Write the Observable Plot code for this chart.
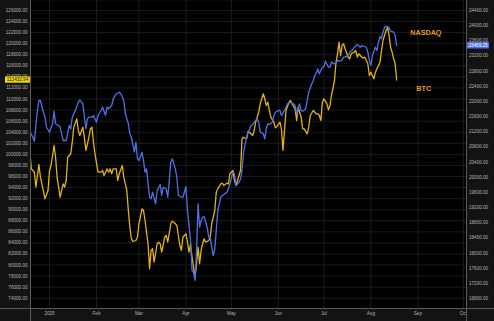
<!DOCTYPE html>
<html><head><meta charset="utf-8">
<script src="https://cdn.jsdelivr.net/npm/d3@7"></script>
<script src="https://cdn.jsdelivr.net/npm/@observablehq/plot@0.6"></script>
<style>
html,body{margin:0;padding:0;background:#131313;}
#chart{width:494px;height:321px;overflow:hidden;position:relative;}
</style></head><body><div id="chart"></div>
<script>
const btcDates = ["2024-12-19","2024-12-20","2024-12-22","2024-12-23","2024-12-25","2024-12-26","2024-12-27","2024-12-29","2024-12-31",
"2025-01-01","2025-01-02","2025-01-04","2025-01-05","2025-01-06","2025-01-08","2025-01-10","2025-01-11","2025-01-12","2025-01-13","2025-01-15","2025-01-16","2025-01-17","2025-01-19","2025-01-20","2025-01-21","2025-01-23","2025-01-24","2025-01-25","2025-01-27","2025-01-28","2025-01-29","2025-01-30","2025-01-31",
"2025-02-02","2025-02-04","2025-02-05","2025-02-06","2025-02-08","2025-02-09","2025-02-10","2025-02-11","2025-02-12","2025-02-14","2025-02-15","2025-02-16","2025-02-18","2025-02-19","2025-02-20","2025-02-21","2025-02-22","2025-02-23","2025-02-24","2025-02-25","2025-02-27","2025-02-28",
"2025-03-01","2025-03-03","2025-03-04","2025-03-05","2025-03-07","2025-03-08","2025-03-09","2025-03-10","2025-03-11","2025-03-13","2025-03-14","2025-03-15","2025-03-16","2025-03-18","2025-03-19","2025-03-20","2025-03-22","2025-03-23","2025-03-24","2025-03-25","2025-03-26","2025-03-28","2025-03-29","2025-03-30",
"2025-04-01","2025-04-02","2025-04-03","2025-04-04","2025-04-05","2025-04-06","2025-04-07","2025-04-08","2025-04-09","2025-04-10","2025-04-11","2025-04-12","2025-04-13","2025-04-14","2025-04-16","2025-04-17","2025-04-18","2025-04-20","2025-04-21","2025-04-22","2025-04-24","2025-04-25","2025-04-26","2025-04-28","2025-04-29","2025-04-30",
"2025-05-02","2025-05-03","2025-05-04","2025-05-05","2025-05-07","2025-05-08","2025-05-09","2025-05-11","2025-05-12","2025-05-14","2025-05-15","2025-05-16","2025-05-17","2025-05-19","2025-05-20","2025-05-22","2025-05-23","2025-05-24","2025-05-25","2025-05-26","2025-05-27","2025-05-29","2025-05-30","2025-05-31",
"2025-06-02","2025-06-03","2025-06-04","2025-06-05","2025-06-06","2025-06-08","2025-06-09","2025-06-10","2025-06-12","2025-06-13","2025-06-14","2025-06-16","2025-06-17","2025-06-18","2025-06-20","2025-06-21","2025-06-22","2025-06-24","2025-06-25","2025-06-26","2025-06-27","2025-06-28","2025-06-29","2025-06-30",
"2025-07-01","2025-07-03","2025-07-04","2025-07-05","2025-07-06","2025-07-08","2025-07-09","2025-07-10","2025-07-11","2025-07-12","2025-07-13","2025-07-14","2025-07-15","2025-07-17","2025-07-18","2025-07-19","2025-07-21","2025-07-22","2025-07-23","2025-07-24","2025-07-26","2025-07-27","2025-07-28","2025-07-30","2025-07-31",
"2025-08-01","2025-08-03","2025-08-04","2025-08-05","2025-08-07","2025-08-08","2025-08-09","2025-08-11","2025-08-12","2025-08-13","2025-08-14","2025-08-15","2025-08-16","2025-08-17","2025-08-18"];
const btcValues = [100702,97395,96781,94070,98172,95877,94685,91974,93474,
97088,97991,101605,99492,95877,92263,94685,94070,95281,99492,100106,102202,104912,106430,104316,103412,104912,103105,100702,103105,104623,104912,102202,100106,
96781,96781,97088,96184,97395,96781,97395,96492,97395,97395,95281,96492,97991,95877,94685,93474,89860,86842,84800,84258,84439,85036,
87457,90167,89860,88053,83843,79325,82632,82939,80518,83843,84132,83843,82325,85036,85342,84132,87457,87927,87746,87457,87149,83535,82632,85036,
85650,84132,82325,83843,81421,79614,77807,80229,83228,80229,82632,83843,84746,84132,84439,85036,87457,89860,93167,93781,94685,94793,94377,94793,94685,96492,
97088,95281,94377,95281,97088,102816,103105,102816,104135,103720,103412,104316,105816,107623,109141,110948,110044,108833,109430,107930,106719,105816,104804,105039,
105816,104623,100702,104316,107930,109430,109737,109141,108237,106123,108526,106719,104623,104623,103720,104912,107026,107930,107623,107334,107334,107026,106123,109430,
110044,109141,108056,108833,110640,113351,116658,118176,120272,117868,119675,119983,119079,117561,117272,118176,118465,118772,117561,118176,117561,117453,117561,116369,114254,
114851,113658,114851,115465,116658,118772,120579,122386,122982,121482,119368,118465,117272,116369,113432.94];

const nqDates = ["2024-12-19","2024-12-21","2024-12-22","2024-12-24","2024-12-25","2024-12-26","2024-12-27","2024-12-29","2024-12-30",
"2025-01-01","2025-01-03","2025-01-04","2025-01-05","2025-01-07","2025-01-08","2025-01-09","2025-01-10","2025-01-12","2025-01-14","2025-01-15","2025-01-16","2025-01-18","2025-01-20","2025-01-21","2025-01-23","2025-01-24","2025-01-25","2025-01-26","2025-01-27","2025-01-29","2025-01-30",
"2025-02-01","2025-02-02","2025-02-04","2025-02-05","2025-02-07","2025-02-08","2025-02-09","2025-02-11","2025-02-12","2025-02-14","2025-02-16","2025-02-17","2025-02-19","2025-02-20","2025-02-22","2025-02-23","2025-02-24","2025-02-26","2025-02-27","2025-02-28",
"2025-03-01","2025-03-03","2025-03-04","2025-03-05","2025-03-06","2025-03-08","2025-03-09","2025-03-10","2025-03-12","2025-03-13","2025-03-15","2025-03-16","2025-03-17","2025-03-19","2025-03-20","2025-03-21","2025-03-22","2025-03-23","2025-03-25","2025-03-26","2025-03-27","2025-03-29","2025-03-30","2025-03-31",
"2025-04-01","2025-04-02","2025-04-04","2025-04-05","2025-04-06","2025-04-07","2025-04-08","2025-04-09","2025-04-10","2025-04-11","2025-04-12","2025-04-13","2025-04-15","2025-04-16","2025-04-17","2025-04-18","2025-04-19","2025-04-20","2025-04-21","2025-04-22","2025-04-24","2025-04-25","2025-04-26","2025-04-28","2025-04-29","2025-04-30",
"2025-05-02","2025-05-03","2025-05-04","2025-05-06","2025-05-07","2025-05-08","2025-05-09","2025-05-11","2025-05-12","2025-05-14","2025-05-15","2025-05-16","2025-05-18","2025-05-19","2025-05-20","2025-05-22","2025-05-23","2025-05-24","2025-05-25","2025-05-26","2025-05-28","2025-05-29","2025-05-30",
"2025-06-01","2025-06-02","2025-06-03","2025-06-05","2025-06-06","2025-06-07","2025-06-09","2025-06-10","2025-06-11","2025-06-12","2025-06-13","2025-06-15","2025-06-16","2025-06-17","2025-06-19","2025-06-20","2025-06-21","2025-06-23","2025-06-24","2025-06-25","2025-06-26","2025-06-27","2025-06-28","2025-06-30",
"2025-07-01","2025-07-02","2025-07-04","2025-07-05","2025-07-06","2025-07-08","2025-07-09","2025-07-10","2025-07-12","2025-07-13","2025-07-14","2025-07-15","2025-07-17","2025-07-18","2025-07-20","2025-07-21","2025-07-23","2025-07-25","2025-07-26","2025-07-28","2025-07-29","2025-07-30","2025-07-31",
"2025-08-01","2025-08-02","2025-08-04","2025-08-05","2025-08-06","2025-08-07","2025-08-08","2025-08-09","2025-08-10","2025-08-12","2025-08-13","2025-08-14","2025-08-16","2025-08-17","2025-08-18"];
const nqValues = [21207,21056,20951,21761,22025,22025,21848,21584,21320,
21188,21410,21743,21410,21365,21320,21146,20969,20969,21365,21278,21584,21761,21980,22043,21938,21584,21278,21542,21584,21584,21629,
21452,21629,21761,21848,21629,21848,21806,21893,22070,22202,22244,22202,22025,21674,21410,21146,21056,20661,20924,20494,
20441,20661,20441,20133,20222,19473,19431,19605,19299,19650,19808,19518,19737,19695,19473,19914,20397,20486,20222,20001,19518,19473,19473,19605,
19755,19122,18330,17539,17494,17275,18066,19299,18681,18858,18945,18964,18681,18417,18417,18153,17934,18111,18594,19122,19473,19518,19544,19605,19695,19827,
20133,20090,19782,19869,19959,20178,20653,21048,21188,21365,21392,21452,21542,21452,21188,21146,21014,21278,21410,21392,21452,21629,21716,
21761,21761,21629,21761,21848,21938,21980,21938,21938,21893,21674,21938,21761,21743,21806,22025,22244,22466,22553,22685,22745,22861,22730,22904,
22904,23062,22904,22904,23036,22993,23009,23080,23062,23099,23168,23168,23212,23292,23371,23431,23503,23431,23476,23450,23431,23300,23080,
22949,23212,23431,23344,23563,23714,23653,23827,23959,23978,23959,23854,23827,23740,23469.25];

const btcTicks = d3.range(74000, 126001, 2000);
const nqTicks = d3.range(16800, 24401, 400);
const monthTicks = ["2025-01-01","2025-02-01","2025-03-01","2025-04-01","2025-05-01","2025-06-01","2025-07-01","2025-08-01","2025-09-01","2025-10-01"];
const monthLabels = ["2025","Feb","Mar","Apr","May","Jun","Jul","Aug","Sep","Oct"];
const seriesNames = ["NASDAQ","BTC"];
const seriesNameDates = ["2025-08-27","2025-08-31"];
const seriesNameValues = [23819, 111905]; // NASDAQ in right-axis units, BTC in left-axis units
const btcLast = 113432.94;
const nqLast = 23469.25;

const yDomain = [72151, 127807];
const nqDomain = [16536, 24664];
const toLeft = d3.scaleLinear().domain(nqDomain).range(yDomain);

const btc = btcDates.map((d, i) => ({date: new Date(d), value: btcValues[i]}));
const nq = nqDates.map((d, i) => ({date: new Date(d), value: toLeft(nqValues[i])}));
const names = seriesNames.map((n, i) => ({name: n, date: new Date(seriesNameDates[i]), value: i === 0 ? toLeft(seriesNameValues[i]) : seriesNameValues[i]}));
const months = monthTicks.map(d => new Date(d));

const font = "'Liberation Sans', Arial, sans-serif";
const chart = Plot.plot({
  width: 494, height: 321,
  marginLeft: 30, marginRight: 28, marginTop: 0, marginBottom: 13,
  style: {background: "transparent", fontFamily: font, fontSize: "4.6px", color: "#b4b4b4", overflow: "visible"},
  x: {type: "utc", domain: [new Date("2024-12-19T11:00Z"), new Date("2025-10-03T01:40Z")]},
  y: {domain: yDomain},
  marks: [
    Plot.frame({fill: "#000", stroke: null}),
    Plot.gridY(btcTicks, {stroke: "#1b1b1b", strokeOpacity: 1}),
    Plot.gridX(months, {stroke: "#1b1b1b", strokeOpacity: 1}),
    Plot.axisY(btcTicks, {anchor: "left", tickSize: 0, tickPadding: 3, tickFormat: d => d.toFixed(2), label: null}),
    Plot.axisY(nqTicks.map(toLeft), {anchor: "right", tickSize: 0, tickPadding: 2.5, tickFormat: d => toLeft.invert(d).toFixed(2), label: null}),
    Plot.axisX(months, {anchor: "bottom", tickSize: 0, tickPadding: 3, tickFormat: d => monthLabels[d.getUTCMonth()], label: null}),
    Plot.line(btc, {x: "date", y: "value", stroke: "#e3b214", strokeWidth: 1.3, clip: true}),
    Plot.line(nq, {x: "date", y: "value", stroke: "#5070e6", strokeWidth: 1.3, clip: true}),
    Plot.text(names, {x: "date", y: "value", text: "name", textAnchor: "start", fill: "#e39a28", fontWeight: "bold", fontSize: 7.2})
  ]
});
document.getElementById("chart").appendChild(chart);

// decorations: panel borders, right-panel cover and last-value tags
const svg = d3.select(chart);
const ys = chart.scale("y");
svg.append("rect").attr("x", 466.5).attr("y", 308.5).attr("width", 28).attr("height", 13).attr("fill", "#131313");
const g = svg.append("g").attr("stroke", "#5a5a5a").attr("stroke-width", 1);
g.append("line").attr("x1", 0).attr("x2", 494).attr("y1", 308.5).attr("y2", 308.5);
g.append("line").attr("x1", 30.5).attr("x2", 30.5).attr("y1", 0).attr("y2", 321);
g.append("line").attr("x1", 466.5).attr("x2", 466.5).attr("y1", 0).attr("y2", 321);

const by = ys.apply(btcLast);
svg.append("rect").attr("x", 5).attr("y", by - 3.2).attr("width", 25).attr("height", 6.4).attr("fill", "#f2d200");
svg.append("text").attr("x", 17.5).attr("y", by).attr("dy", "0.35em").attr("text-anchor", "middle")
  .attr("font-family", font).attr("font-size", 4.6).attr("fill", "#222").text(btcLast.toFixed(2));
const ny = ys.apply(toLeft(nqLast));
svg.append("rect").attr("x", 467).attr("y", ny - 3.2).attr("width", 22).attr("height", 6.4).attr("fill", "#4f70f0");
svg.append("text").attr("x", 478).attr("y", ny).attr("dy", "0.35em").attr("text-anchor", "middle")
  .attr("font-family", font).attr("font-size", 4.6).attr("fill", "#fff").text(nqLast.toFixed(2));
</script></body></html>
